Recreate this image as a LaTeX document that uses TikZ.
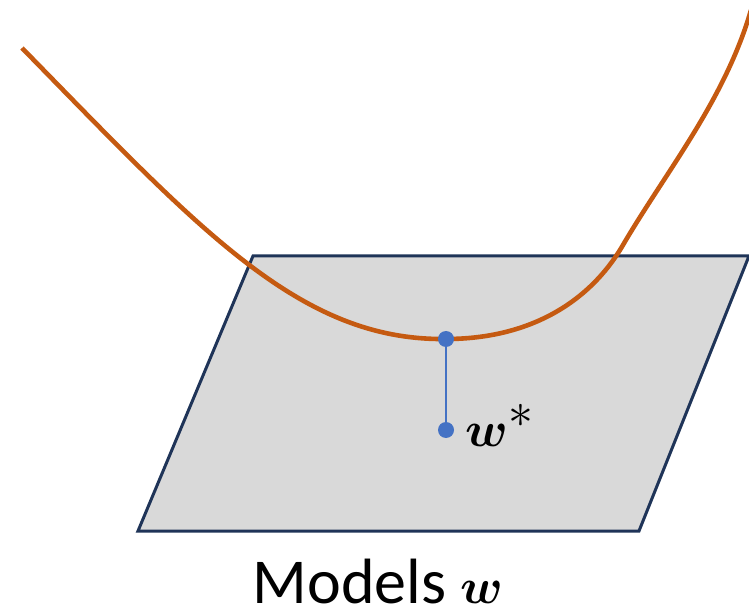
\documentclass[tikz,border=0pt]{standalone}
\usepackage{fontspec}
\usepackage{amsmath,bm}
\setmainfont{Carlito}
\begin{document}
\begin{tikzpicture}[x=0.5pt,y=-0.5pt,
  plane/.style={draw=planeedge,fill=planefill,line width=1.5pt,line join=miter},
  losscurve/.style={draw=curveorange,line width=2.3pt},
  dotpt/.style={circle,fill=dotblue,inner sep=0pt,minimum size=8pt},
  proj/.style={draw=dotblue,line width=1.1pt}]
\definecolor{planeedge}{HTML}{1F3458}
\definecolor{planefill}{HTML}{D9D9D9}
\definecolor{curveorange}{HTML}{C55A11}
\definecolor{dotblue}{HTML}{4472C4}
\useasboundingbox (0,0) rectangle (749,614);
\begin{scope}
\clip (0,0) rectangle (749,614);
\draw[plane] (253,256) -- (749,256) -- (639,531) -- (138,531) -- cycle;
\draw[losscurve] (22,48) .. controls (200,230) and (300,341) .. (446,339)
  .. controls (526,339) and (588,305) .. (623,245)
  .. controls (665,173) and (725,100) .. (751,10);
\end{scope}
\node[dotpt] (top) at (446,339) {};
\node[dotpt] (opt) at (446,430) {};
\draw[proj] (top) -- (opt);
\node[anchor=base west,inner sep=0pt,font=\fontsize{35}{40}\selectfont] (wlabel) at (465,446) {$\boldsymbol{w}^{*}$};
\node[anchor=base,inner sep=0pt,font=\fontsize{32}{36}\selectfont] (models) at (378,603) {Models $\boldsymbol{w}$};
\end{tikzpicture}
\end{document}
